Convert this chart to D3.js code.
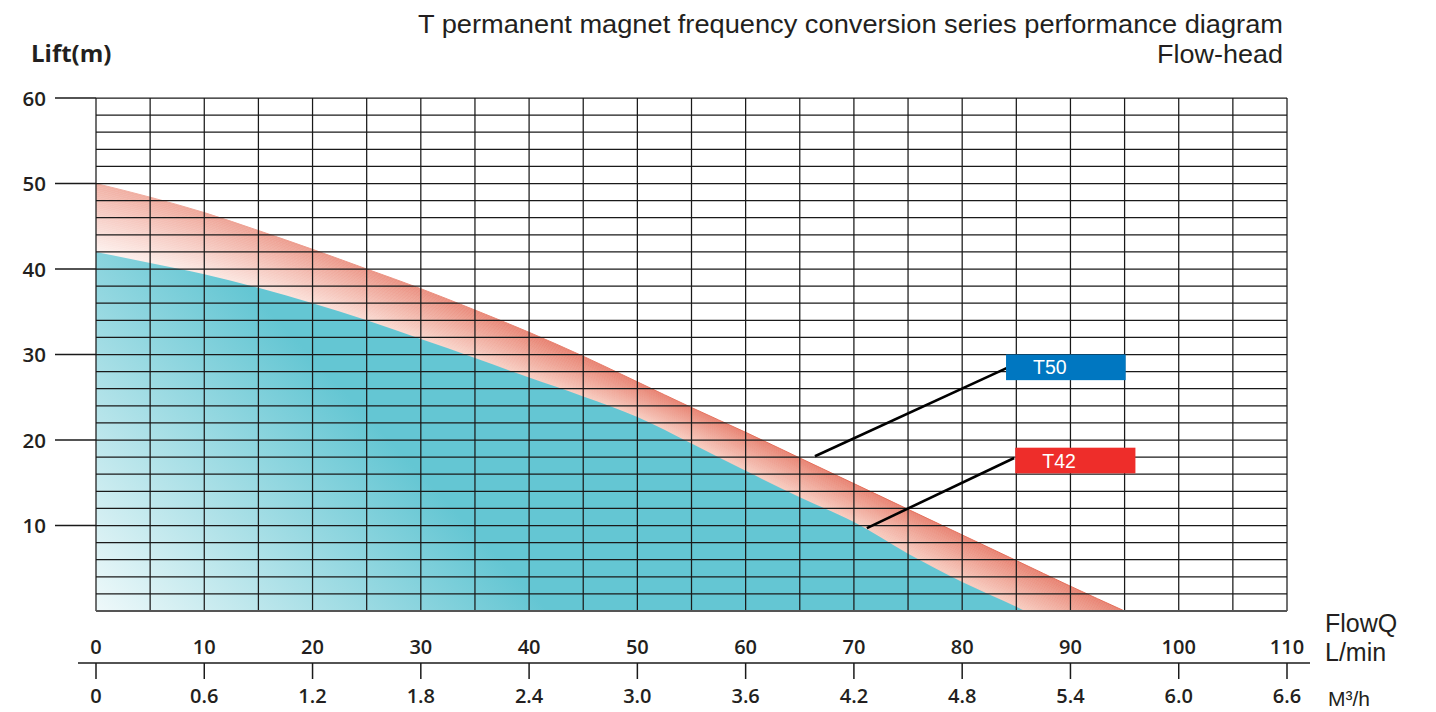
<!DOCTYPE html>
<html>
<head>
<meta charset="utf-8">
<script src="https://cdn.jsdelivr.net/npm/d3@7"></script>
<style>
  html, body { margin: 0; padding: 0; background: #fff; }
  svg { display: block; font-family: "Open Sans", "Noto Sans", sans-serif; }
  text { fill: #231f20; }
</style>
</head>
<body>
<svg id="chart" width="1436" height="712"></svg>
<script>
// ---------------- data ----------------
const flowT50 = [0, 5, 10, 15, 20, 25, 30, 35, 40, 45, 50, 55, 60, 65, 70, 75, 80, 85, 90, 95];
const headT50 = [50, 48.4, 46.6, 44.5, 42.3, 40.0, 37.7, 35.2, 32.6, 29.8, 26.8, 23.8, 20.9, 17.9, 14.9, 11.9, 8.9, 5.9, 2.9, 0];
const flowT42 = [0, 5, 10, 15, 20, 25, 30, 35, 40, 45, 50, 55, 60, 65, 70, 75, 80, 85, 85.8];
const headT42 = [42, 40.7, 39.4, 37.8, 36.0, 34.0, 31.8, 29.6, 27.3, 25.1, 22.7, 19.6, 16.4, 13.3, 10.4, 6.7, 3.4, 0.5, 0];
const flowTicksLmin = [0, 10, 20, 30, 40, 50, 60, 70, 80, 90, 100, 110];
const flowTicksM3h = ["0", "0.6", "1.2", "1.8", "2.4", "3.0", "3.6", "4.2", "4.8", "5.4", "6.0", "6.6"];
const liftTicks = [10, 20, 30, 40, 50, 60];
const seriesNames = ["T50", "T42"];
const titleLines = ["T permanent magnet frequency conversion series performance diagram", "Flow-head"];

// ---------------- layout ----------------
const svg = d3.select("#chart");
const x = d3.scaleLinear().domain([0, 110]).range([96, 1287]);
const y = d3.scaleLinear().domain([0, 60]).range([611, 98]);
const defs = svg.append("defs");
const SANS2 = "'Liberation Sans', Arial, sans-serif";

const f50 = d3.scaleLinear().domain(flowT50).range(headT50);
const f42 = d3.scaleLinear().domain(flowT42).range(headT42);
const maxT50 = d3.max(flowT50), maxT42 = d3.max(flowT42);

// ---------- red band (T50) ----------
const ptsT50 = flowT50.map((f, i) => [f, headT50[i]]);
const ptsT42 = flowT42.map((f, i) => [f, headT42[i]]);
const areaGen = d3.area().x(d => x(d[0])).y0(y(0)).y1(d => y(d[1])).curve(d3.curveMonotoneX);

defs.append("clipPath").attr("id", "clip50")
  .append("path").attr("d", areaGen(ptsT50));

const N = 36;
const us = d3.range(0, 101).map(i => i / 100);
function bandPoint(u, s) {
  const xa = maxT50 * u, ya = f50(xa);
  const xb = maxT42 * u, yb = f42(xb);
  return [x(xa + (xb - xa) * s), y(ya + (yb - ya) * s)];
}
const leftCol = d3.interpolateRgb("#f1b2a6", "#fdf1ee");
const midCol = d3.interpolateRgb("#e7806f", "#f7cbbf");
const bands = d3.range(N).map(k => {
  const s0 = k === 0 ? -0.2 : k / N;
  const s1 = k === N - 1 ? 1.2 : (k + 1) / N;
  const sm = Math.min(1, Math.max(0, (k + 0.5) / N));
  return { k, s0, s1, sm };
});
const grads = defs.selectAll("linearGradient.rb").data(bands).join("linearGradient")
  .attr("class", "rb")
  .attr("id", d => "rb" + d.k)
  .attr("gradientUnits", "userSpaceOnUse")
  .attr("x1", x(0)).attr("y1", 0).attr("x2", x(42)).attr("y2", 0);
grads.append("stop").attr("offset", 0).attr("stop-color", d => leftCol(d.sm));
grads.append("stop").attr("offset", 1).attr("stop-color", d => midCol(d.sm));

svg.append("g").attr("clip-path", "url(#clip50)")
  .selectAll("path").data(bands).join("path")
  .attr("d", d => {
    const top = us.map(u => bandPoint(u, d.s0));
    const bot = us.slice().reverse().map(u => bandPoint(u, d.s1));
    return "M" + top.concat(bot).map(p => p.join(",")).join("L") + "Z";
  })
  .attr("fill", d => `url(#rb${d.k})`)
  .attr("stroke", d => `url(#rb${d.k})`)
  .attr("stroke-width", 0.6);

// thin darker edge on the T50 curve (stronger towards the right)
const eg = defs.append("linearGradient").attr("id", "edgeGrad")
  .attr("gradientUnits", "userSpaceOnUse")
  .attr("x1", x(0)).attr("y1", 0).attr("x2", x(60)).attr("y2", 0);
eg.append("stop").attr("offset", 0).attr("stop-color", "#f1b2a6");
eg.append("stop").attr("offset", 1).attr("stop-color", "#e4705c");
svg.append("path")
  .attr("d", d3.line().x(d => x(d[0])).y(d => y(d[1])).curve(d3.curveMonotoneX)(ptsT50))
  .attr("fill", "none").attr("stroke", "url(#edgeGrad)").attr("stroke-width", 1);

// ---------- cyan area (T42) ----------
const cg = defs.append("linearGradient").attr("id", "cyanGrad")
  .attr("gradientUnits", "userSpaceOnUse")
  .attr("x1", x(0)).attr("y1", y(0)).attr("x2", x(22.4)).attr("y2", y(26.4));
cg.append("stop").attr("offset", 0).attr("stop-color", "#eff9fa");
cg.append("stop").attr("offset", 1).attr("stop-color", "#64c6d3");

svg.append("path").attr("d", areaGen(ptsT42)).attr("fill", "url(#cyanGrad)");

// ---------- grid ----------
const grid = svg.append("g").attr("stroke", "#1a1a1a").attr("stroke-width", 1.25);
grid.selectAll("line.v").data(d3.range(0, 111, 5)).join("line")
  .attr("x1", d => x(d)).attr("x2", d => x(d))
  .attr("y1", y(60)).attr("y2", y(0));
grid.selectAll("line.h").data(d3.range(0, 61, 2)).join("line")
  .attr("x1", x(0)).attr("x2", x(110))
  .attr("y1", d => y(d)).attr("y2", d => y(d))
  .attr("stroke", d => d === 0 ? "#555" : null)
  .attr("stroke-width", d => d === 0 ? 2 : null);

// ---------- y axis ----------
svg.append("g").selectAll("line").data(liftTicks).join("line")
  .attr("x1", 55).attr("x2", x(0))
  .attr("y1", d => y(d)).attr("y2", d => y(d))
  .attr("stroke", "#1a1a1a").attr("stroke-width", 1.5);
svg.append("g").selectAll("text").data(liftTicks).join("text")
  .attr("x", 46).attr("y", d => y(d) + 7.5)
  .attr("text-anchor", "end").attr("font-size", 20.5).attr("font-weight", 600)
  .text(d => d);
svg.append("text").attr("x", 31).attr("y", 62)
  .attr("font-size", 24).attr("font-weight", "bold").text("Lift(m)");

// ---------- x axis ----------
const axisY = 663;
svg.append("line").attr("x1", 78).attr("x2", 1310).attr("y1", axisY).attr("y2", axisY)
  .attr("stroke", "#1a1a1a").attr("stroke-width", 1.6);
svg.append("g").selectAll("line").data(flowTicksLmin).join("line")
  .attr("x1", d => x(d)).attr("x2", d => x(d))
  .attr("y1", axisY).attr("y2", axisY + 16)
  .attr("stroke", "#1a1a1a").attr("stroke-width", 1.5);
svg.append("g").selectAll("text").data(flowTicksLmin).join("text")
  .attr("x", d => x(d)).attr("y", 653.5)
  .attr("text-anchor", "middle").attr("font-size", 20).attr("font-weight", 600)
  .text(d => d);
svg.append("g").selectAll("text").data(flowTicksM3h).join("text")
  .attr("x", (d, i) => x(flowTicksLmin[i])).attr("y", 702.5)
  .attr("text-anchor", "middle").attr("font-size", 20).attr("font-weight", 600)
  .text(d => d);
svg.append("text").attr("x", 1325).attr("y", 632)
  .style("font-family", SANS2).attr("font-size", 25).text("FlowQ");
svg.append("text").attr("x", 1325).attr("y", 661)
  .style("font-family", SANS2).attr("font-size", 25).text("L/min");
svg.append("text").attr("x", 1328).attr("y", 706)
  .style("font-family", SANS2).attr("font-size", 21).text("M³/h");

// ---------- title ----------
svg.append("text").attr("x", 1283).attr("y", 33).attr("text-anchor", "end")
  .style("font-family", SANS2)
  .attr("font-size", 26.5).attr("textLength", 865).attr("lengthAdjust", "spacingAndGlyphs")
  .text(titleLines[0]);
svg.append("text").attr("x", 1283).attr("y", 63).attr("text-anchor", "end")
  .style("font-family", SANS2)
  .attr("font-size", 26.5).attr("textLength", 126).attr("lengthAdjust", "spacingAndGlyphs")
  .text(titleLines[1]);

// ---------- series labels ----------
const labelColors = ["#0077c1", "#ee2d2a"];
const labelBox = [ {x0: 84.05, x1: 95.1, y0: 30.0, y1: 27.0}, {x0: 84.9, x1: 96.0, y0: 19.1, y1: 16.1} ];
const leader = [ {from: [66.4, 18.1], to: [84.1, 28.4]}, {from: [71.2, 9.7], to: [84.8, 17.9]} ];
const lg = svg.append("g");
lg.selectAll("line").data(leader).join("line")
  .attr("x1", d => x(d.from[0])).attr("y1", d => y(d.from[1]))
  .attr("x2", d => x(d.to[0])).attr("y2", d => y(d.to[1]))
  .attr("stroke", "#000").attr("stroke-width", 2.6);
lg.selectAll("rect").data(labelBox).join("rect")
  .attr("x", d => x(d.x0)).attr("y", d => y(d.y0))
  .attr("width", d => x(d.x1) - x(d.x0)).attr("height", d => y(d.y1) - y(d.y0))
  .attr("fill", (d, i) => labelColors[i]);
lg.selectAll("text").data(labelBox).join("text")
  .attr("x", d => x(d.x0) + 27).attr("y", d => (y(d.y0) + y(d.y1)) / 2 + 7)
  .style("font-family", SANS2)
  .attr("font-size", 19.5).style("fill", "#fff")
  .text((d, i) => seriesNames[i]);
</script>
</body>
</html>
